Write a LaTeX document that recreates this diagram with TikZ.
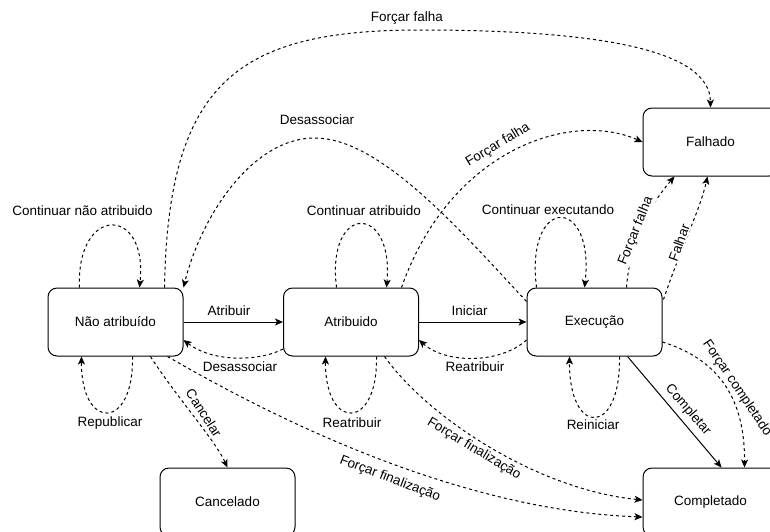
\documentclass[tikz,border=0pt]{standalone}
\usepackage{fontspec}
\setmainfont{Liberation Sans}
\usetikzlibrary{calc,arrows.meta}

\begin{document}
\begin{tikzpicture}[
  x=1pt, y=-1pt,
  every node/.style={font=\fontsize{13.5}{16}\selectfont},
  state/.style={draw, line width=1pt, rounded corners=9pt,
    minimum width=135pt, minimum height=68pt, inner sep=0pt},
  tr/.style={line width=1pt, -{Stealth[length=8pt,width=7pt,inset=2pt]}},
  dtr/.style={tr, dash pattern=on 3pt off 3pt},
  lbl/.style={inner sep=0pt},
  onlbl/.style={fill=white, inner sep=1pt},
]
\clip (0,0) rectangle (770,531);

% states
\node[state] (na) at (115.5,322) {Não atribuído};
\node[state] (at) at (351,322)   {Atribuido};
\node[state] (ex) at (594.5,322) {Execução};
\node[state] (fa) at (710.5,142) {Falhado};
\node[state] (co) at (710.5,502) {Completado};
\node[state] (ca) at (227.5,502) {Cancelado};

% main forward transitions
\draw[tr] (na.east) -- (at.west);
\draw[tr] (at.east) -- (ex.west);
\draw[tr] ($(ex.south west)+(101,0)$) -- ($(co.north west)+(79,0)$);

% backward transitions
\draw[dtr] ($(at.west)+(0,27)$) .. controls (258,362) and (212,362) .. ($(na.east)+(0,18)$);
\draw[dtr] ($(ex.west)+(0,18)$) .. controls (500,364) and (446,364) .. ($(at.east)+(0,18)$);

% self loops
\draw[dtr] ($(na.north west)+(32,0)$) .. controls (76,205) and (148,205) .. ($(na.north west)+(92,0)$);
\draw[dtr] ($(na.south west)+(85,0)$) .. controls (134,431) and (81,431) .. ($(na.south west)+(34,0)$);
\draw[dtr] ($(at.north west)+(53.5,0)$) .. controls (326,203) and (394,203) .. ($(at.north west)+(103.5,0)$);
\draw[dtr] ($(at.south west)+(93.5,0)$) .. controls (378,431) and (325,431) .. ($(at.south west)+(42.5,0)$);
\draw[dtr] ($(ex.north west)+(10,0)$) .. controls (525,195) and (595,195) .. ($(ex.north west)+(58,0)$);
\draw[dtr] ($(ex.south west)+(93,0)$) .. controls (621,437) and (569,437) .. ($(ex.south west)+(43,0)$);

% long arcs
\coordinate (topmid) at (420,30);
\coordinate (desmid) at (315,138);
\draw[dtr] ($(na.north west)+(117,0)$) .. controls (168,80) and (240,30) .. (topmid)
  .. controls (600,30) and (710,50) .. (fa.north);
\draw[dtr] ($(ex.north west)+(0,14)$) .. controls (460,230) and (380,138) .. (desmid)
  .. controls (250,138) and (200,220) .. (na.north east);
\draw[dtr] ($(at.north west)+(118.5,0)$) .. controls (450,150) and (570,110) .. (fa.west);
\draw[dtr] ($(ex.north west)+(100,0)$) .. controls (630,240) and (650,205) .. ($(fa.south west)+(32,0)$);
\draw[dtr] ($(ex.north east)+(1,12)$) .. controls (680,250) and (700,210) .. ($(fa.south west)+(65,0)$);
\draw[dtr] ($(ex.east)+(0,20)$) .. controls (720,360) and (745,400) .. ($(co.north west)+(102,0)$);
\draw[dtr] ($(na.south west)+(103,0)$) .. controls (175,395) and (215,440) .. (ca.north);
\draw[dtr] ($(at.south west)+(101.5,0)$) .. controls (430,420) and (540,490) .. ($(co.west)+(0,-2)$);
\draw[dtr] ($(na.south west)+(120,0)$) .. controls (260,410) and (450,510) .. ($(co.west)+(0,15)$);

% transition labels
\node[lbl] (l1)  at (229,311)   {Atribuir};
\node[lbl] (l2)  at (469.5,311) {Iniciar};
\node[lbl] (l3)  at (240,367)   {Desassociar};
\node[lbl] (l4)  at (475,367)   {Reatribuir};
\node[lbl] (l5)  at (82.5,211)  {Continuar não atribuido};
\node[lbl] (l6)  at (110,423)   {Republicar};
\node[lbl] (l7)  at (364,211)   {Continuar atribuido};
\node[lbl] (l8)  at (352,423)   {Reatribuir};
\node[lbl] (l9)  at (548,210)   {Continuar executando};
\node[lbl] (l10) at (593,425)   {Reiniciar};
\node[lbl] (l11) at (407,18)    {Forçar falha};
\node[lbl] (l12) at (317,120)   {Desassociar};
\node[lbl, rotate=31]    (l13) at (498,145) {Forçar falha};
\node[onlbl, rotate=68]  (l14) at (636,231) {Forçar falha};
\node[onlbl, rotate=70]  (l15) at (679,243) {Falhar};
\node[lbl, rotate=-49.5] (l16) at (688,410) {Completar};
\node[lbl, rotate=-56]   (l17) at (737,388) {Forçar completado};
\node[lbl, rotate=-57]   (l18) at (204,413) {Cancelar};
\node[lbl, rotate=-31]   (l19) at (474,449) {Forçar finalização};
\node[lbl, rotate=-21]   (l20) at (390,479) {Forçar finalização};
\end{tikzpicture}
\end{document}
